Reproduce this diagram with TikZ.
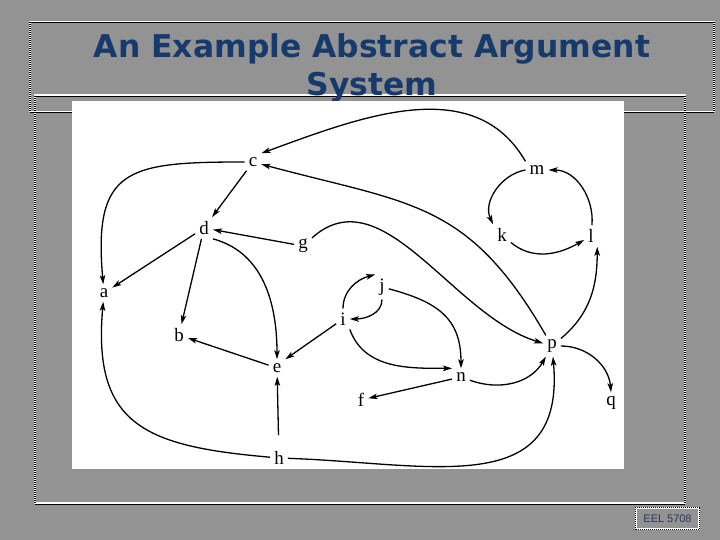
\documentclass[tikz,border=0pt]{standalone}
\usepackage{fontspec}
\setmainfont{Liberation Serif}
\newfontfamily\titlefont{DejaVu Sans}
\newfontfamily\footfont{Liberation Sans}
\usetikzlibrary{arrows.meta}
\definecolor{slidegray}{RGB}{147,147,147}
\definecolor{titleblue}{RGB}{22,58,108}
\definecolor{footblue}{RGB}{40,55,85}

\tikzset{
  arg/.style={inner sep=4bp, font=\fontsize{19}{19}\selectfont},
  attack/.style={line width=1.3bp, -{Stealth[length=9bp,width=5.5bp,inset=2bp]}},
  frameline/.style={draw=white, line width=1.6bp},
  framedots/.style={draw=black, line width=1.2bp, dash pattern=on 1bp off 1bp},
}

\begin{document}
\begin{tikzpicture}[x=1bp,y=1bp]
\useasboundingbox (0,0) rectangle (720,540);
\fill[slidegray] (0,0) rectangle (720,540);

% body frame and title frame
\draw[frameline] (35,37) rectangle (685,445);
\draw[framedots] (35,37) -- (35,445) (685,37) -- (685,445);
\draw[black, line width=0.8bp] (35,443.6) -- (685,443.6) (35,36) -- (685,36);
\draw[frameline] (30,428.5) rectangle (714,518.5);
\draw[framedots] (30,428.5) -- (30,518.5) (714,428.5) -- (714,518.5);
\draw[black, line width=0.8bp] (30,517.1) -- (714,517.1) (30,427.3) -- (714,427.3);

\node[font=\titlefont\bfseries\fontsize{31.5}{38}\selectfont, text=titleblue, align=center] (title) at (372,472) {An Example Abstract Argument\\System};

% the graph
\fill[white] (72,71) rectangle (624,439);

\node[arg] (c) at (253,378) {c};
\node[arg] (m) at (537,370) {m};
\node[arg] (d) at (204,312) {d};
\node[arg] (g) at (303,294) {g};
\node[arg] (k) at (502,305) {k};
\node[arg] (l) at (591,304) {l};
\node[arg] (a) at (104,247) {a};
\node[arg] (j) at (382,253) {j};
\node[arg] (i) at (343,221) {i};
\node[arg] (b) at (179,205) {b};
\node[arg] (p) at (552,194) {p};
\node[arg] (e) at (277,172) {e};
\node[arg] (n) at (461,163) {n};
\node[arg] (f) at (361,140) {f};
\node[arg] (q) at (611,137) {q};
\node[arg] (h) at (279,82) {h};

\draw[attack] (m.north west) to[out=120,in=20] (c.north east);
\draw[attack] (c) to[out=180,in=95,looseness=1.6] (a);
\draw[attack] (c) -- (d);
\draw[attack] (p) to[out=120,in=-15,looseness=1.2] (c);
\draw[attack] (g) -- (d);
\draw[attack] (d) -- (a);
\draw[attack] (d) -- (b);
\draw[attack] (d.south east) to[out=-15,in=90] (e);
\draw[attack] (g) to[out=42,in=163,looseness=0.95] (p);
\draw[attack] (e) -- (b);
\draw[attack] (i) -- (e.north east);
\draw[attack, shorten <=12bp] (h) -- (e);
\draw[attack] (h) to[out=175,in=-95,looseness=1.4] (a);
\draw[attack] (h) to[out=-2,in=-85,looseness=1.3] (p);
\draw[attack] (i.north) to[out=90,in=195] (j.north west);
\draw[attack] (j) to[out=-90,in=0] (i.east);
\draw[attack] (i.south east) to[out=-70,in=180] (n.north west);
\draw[attack] (j) to[out=-15,in=90,looseness=1.2] (n);
\draw[attack] (n) -- (f);
\draw[attack] (n) to[out=-20,in=-120] (p);
\draw[attack] (p) to[out=40,in=-90] (l.-60);
\draw[attack] (p) to[out=0,in=95] (q.north);
\draw[attack] (m.west) to[out=190,in=115] (k.north west);
\draw[attack] (k) to[out=-40,in=-150] (l);
\draw[attack] (l) to[out=85,in=0] (m);

% footer
\node[draw=white, line width=1.4bp, minimum width=63bp, minimum height=21bp, inner sep=0pt, font=\footfont\fontsize{11}{11}\selectfont, text=footblue] (eel) at (667.5,21.5) {EEL 5708};
\draw[framedots] (eel.south west) rectangle (eel.north east);
\end{tikzpicture}
\end{document}
